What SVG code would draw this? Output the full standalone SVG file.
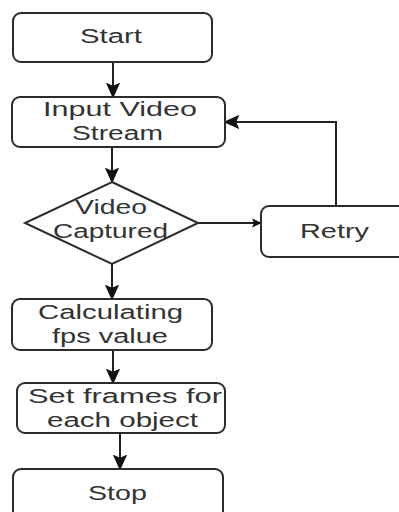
<svg xmlns="http://www.w3.org/2000/svg" width="399" height="512" viewBox="0 0 399 512">
  <defs>
    <marker id="arrow" viewBox="0 0 10 10" refX="9" refY="5" markerWidth="8" markerHeight="8" markerUnits="strokeWidth" orient="auto">
      <path d="M0,0.5 L10,5 L0,9.5 L2,5 Z" fill="#111"/>
    </marker>
    <marker id="arrow-sm" viewBox="0 0 10 10" refX="9" refY="5" markerWidth="5" markerHeight="5" markerUnits="strokeWidth" orient="auto">
      <path d="M0,0.5 L10,5 L0,9.5 L2,5 Z" fill="#111"/>
    </marker>
  </defs>
  <style>
    .box { fill: #ffffff; stroke: #2b2b2b; stroke-width: 2; }
    .edge { fill: none; stroke: #222; stroke-width: 2; }
    .lbl { font-family: "Liberation Sans", Arial, sans-serif; font-size: 20px; fill: #333333; }
  </style>
  <rect width="399" height="512" fill="#ffffff"/>

  <g id="edges">
    <line class="edge" x1="113" y1="62" x2="113" y2="97" marker-end="url(#arrow)"/>
    <line class="edge" x1="112" y1="147" x2="112" y2="182" marker-end="url(#arrow)"/>
    <line class="edge" x1="198" y1="223" x2="261" y2="223" marker-end="url(#arrow-sm)"/>
    <polyline class="edge" points="336,206 336,122 225,122" marker-end="url(#arrow)"/>
    <line class="edge" x1="112" y1="264" x2="112" y2="299" marker-end="url(#arrow)"/>
    <line class="edge" x1="113" y1="350" x2="113" y2="383" marker-end="url(#arrow)"/>
    <line class="edge" x1="120" y1="433" x2="120" y2="469" marker-end="url(#arrow)" stroke="#444"/>
  </g>

  <g id="start">
    <rect class="box" x="13" y="13" width="199" height="49" rx="8"/>
    <text class="lbl" x="80" y="43" textLength="62" lengthAdjust="spacingAndGlyphs">Start</text>
  </g>

  <g id="input">
    <rect class="box" x="12" y="97" width="213" height="50" rx="8"/>
    <text class="lbl" x="43" y="116" textLength="154" lengthAdjust="spacingAndGlyphs">Input Video</text>
    <text class="lbl" x="72" y="140" textLength="91" lengthAdjust="spacingAndGlyphs">Stream</text>
  </g>

  <g id="captured">
    <polygon class="box" points="112,182 198,223 112,264 25,223"/>
    <text class="lbl" x="75" y="214" textLength="72" lengthAdjust="spacingAndGlyphs">Video</text>
    <text class="lbl" x="53" y="238" textLength="115" lengthAdjust="spacingAndGlyphs">Captured</text>
  </g>

  <g id="retry">
    <rect class="box" x="261" y="206" width="150" height="51" rx="8"/>
    <text class="lbl" x="300" y="238" textLength="69" lengthAdjust="spacingAndGlyphs">Retry</text>
  </g>

  <g id="calc">
    <rect class="box" x="12" y="299" width="200" height="51" rx="8"/>
    <text class="lbl" x="38" y="319" textLength="145" lengthAdjust="spacingAndGlyphs">Calculating</text>
    <text class="lbl" x="52" y="343" textLength="116" lengthAdjust="spacingAndGlyphs">fps value</text>
  </g>

  <g id="frames">
    <rect class="box" x="17" y="383" width="208" height="50" rx="8"/>
    <text class="lbl" x="28" y="403" textLength="194" lengthAdjust="spacingAndGlyphs">Set frames for</text>
    <text class="lbl" x="47" y="427" textLength="151" lengthAdjust="spacingAndGlyphs">each object</text>
  </g>

  <g id="stop">
    <rect class="box" x="13" y="469" width="210" height="60" rx="8"/>
    <text class="lbl" x="88" y="500" textLength="59" lengthAdjust="spacingAndGlyphs">Stop</text>
  </g>
</svg>
